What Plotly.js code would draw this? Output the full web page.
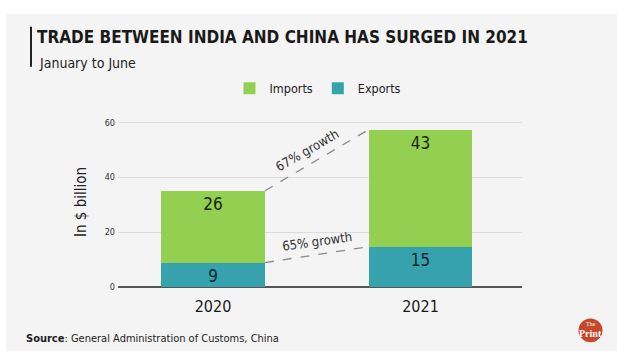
<!DOCTYPE html>
<html>
<head>
<meta charset="utf-8">
<script src="https://cdn.plot.ly/plotly-3.0.1.min.js"></script>
<style>
html,body{margin:0;padding:0;background:#fff;}
#chart{width:617px;height:351px;}
</style>
</head>
<body>
<div id="chart"></div>
<script>
// ---- data ----
var years = ['2020', '2021'];
var exportsVals = [8.9, 14.7];
var importsVals = [26.2, 42.7];
var growthLabels = ['67% growth', '65% growth'];
var yTicks = [0, 20, 40, 60];

var W = 617, H = 351;
var L = 118, R = 522, T = 116.5, B = 287;
function px(x) { return (x - L) / (R - L); }
function py(y) { return (B - y) / (B - T); }

var FONT = 'DejaVu Sans Condensed, Liberation Sans Narrow, sans-serif';
var totals = years.map(function (y, i) { return exportsVals[i] + importsVals[i]; });
var halfBar = 0.25;

var traces = [
  {
    type: 'bar', name: 'Exports', x: [0, 1], y: exportsVals,
    marker: { color: '#35a2ad' },
    texttemplate: '%{y:.0f}', textposition: 'inside', insidetextanchor: 'end', textangle: 0,
    textfont: { family: FONT, size: 17, color: '#15282a' }, constraintext: 'none',
    hoverinfo: 'skip'
  },
  {
    type: 'bar', name: 'Imports', x: [0, 1], y: importsVals,
    marker: { color: '#93cf50' },
    texttemplate: '%{y:.0f}', textposition: 'inside', insidetextanchor: 'end', textangle: 0,
    textfont: { family: FONT, size: 17, color: '#17260f' }, constraintext: 'none',
    hoverinfo: 'skip'
  }
];

var shapes = [
  // gray backdrop
  { type: 'rect', xref: 'paper', yref: 'paper', x0: px(6), x1: px(620), y0: py(13), y1: py(355),
    fillcolor: '#f4f4f4', line: { width: 0 }, layer: 'below' },
  // title accent bar
  { type: 'line', xref: 'paper', yref: 'paper', x0: px(31), x1: px(31), y0: py(26), y1: py(66),
    line: { color: '#222', width: 2 } },
  // growth connectors
  { type: 'line', xref: 'x', yref: 'y', x0: 0 + halfBar, x1: 1 - halfBar, y0: totals[0], y1: totals[1],
    line: { color: '#8a8a8a', width: 1.3, dash: 'dash' } },
  { type: 'line', xref: 'x', yref: 'y', x0: 0 + halfBar, x1: 1 - halfBar, y0: exportsVals[0], y1: exportsVals[1],
    line: { color: '#8a8a8a', width: 1.3, dash: 'dash' } },
  // logo circle
  { type: 'circle', xref: 'paper', yref: 'paper', x0: px(578.5), x1: px(602.5), y0: py(318.5), y1: py(342.5),
    fillcolor: '#c8462a', line: { width: 0 } }
];

var annotations = [
  { xref: 'paper', yref: 'paper', x: px(37), y: py(62), xanchor: 'left', yanchor: 'middle', showarrow: false,
    text: 'January to June', font: { family: FONT, size: 14, color: '#222' } },
  { xref: 'x', yref: 'y', x: 0.5, y: (totals[0] + totals[1]) / 2, xshift: -10, yshift: 10, showarrow: false,
    text: growthLabels[0], textangle: -30, font: { family: FONT, size: 13, color: '#333' } },
  { xref: 'x', yref: 'y', x: 0.5, y: (exportsVals[0] + exportsVals[1]) / 2, yshift: 13, showarrow: false,
    text: growthLabels[1], textangle: -8, font: { family: FONT, size: 13, color: '#333' } },
  { xref: 'paper', yref: 'paper', x: px(24), y: py(339), xanchor: 'left', yanchor: 'middle', showarrow: false,
    text: '<b>Source</b>: General Administration of Customs, China', font: { family: FONT, size: 11, color: '#222' } },
  { xref: 'paper', yref: 'paper', x: px(590.5), y: py(324.5), xanchor: 'center', yanchor: 'middle', showarrow: false,
    text: 'The', font: { family: 'Liberation Serif, serif', size: 6, color: '#fff' } },
  { xref: 'paper', yref: 'paper', x: px(590.5), y: py(334), xanchor: 'center', yanchor: 'middle', showarrow: false,
    text: '<b>Print</b>', font: { family: 'Liberation Serif, serif', size: 10, color: '#fff' } }
];

var layout = {
  width: W, height: H,
  margin: { l: L, r: W - R, t: T, b: H - B, pad: 0 },
  paper_bgcolor: '#ffffff', plot_bgcolor: 'rgba(0,0,0,0)',
  barmode: 'stack', bargap: 0.5,
  title: { text: '<b>TRADE BETWEEN INDIA AND CHINA HAS SURGED IN 2021</b>',
    xref: 'container', yref: 'container', x: 37 / W, xanchor: 'left', y: 1 - 37 / H, yanchor: 'middle',
    font: { family: FONT, size: 17, color: '#1a1a1a' } },
  showlegend: true,
  legend: { orientation: 'h', traceorder: 'reversed', xref: 'paper', yref: 'paper',
    x: px(318), xanchor: 'center', y: py(88), yanchor: 'middle',
    font: { family: FONT, size: 12.5, color: '#222' }, itemwidth: 30, bgcolor: 'rgba(0,0,0,0)' },
  xaxis: { type: 'linear', range: [-0.458, 1.489], tickvals: [0, 1], ticktext: years,
    showgrid: false, zeroline: false, showline: false, ticks: '',
    tickfont: { family: FONT, size: 16, color: '#1a1a1a' }, ticklabelstandoff: 8 },
  yaxis: { range: [0, 62], tickvals: yTicks, showgrid: true, gridcolor: '#dcdcdc', gridwidth: 1,
    zeroline: true, zerolinecolor: '#555', zerolinewidth: 1.2, showline: false, ticks: '',
    tickfont: { family: FONT, size: 9, color: '#333' }, ticklabelstandoff: 2,
    title: { text: 'In $ billion', standoff: 14, font: { family: FONT, size: 15, color: '#222' } } },
  shapes: shapes,
  annotations: annotations
};

Plotly.newPlot('chart', traces, layout, { staticPlot: true, displayModeBar: false });
</script>
</body>
</html>
